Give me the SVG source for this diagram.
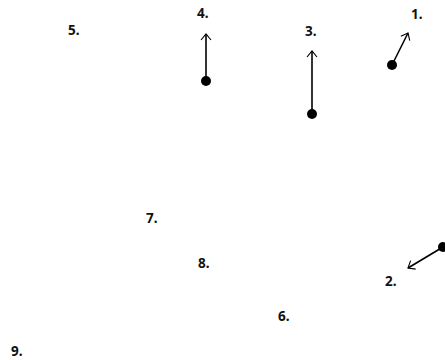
<svg xmlns="http://www.w3.org/2000/svg" width="445" height="360" viewBox="0 0 445 360">
<defs>
<marker id="ah" viewBox="0 0 10 14" refX="9" refY="7" markerWidth="8" markerHeight="14" markerUnits="userSpaceOnUse" orient="auto">
<path d="M1.5,0.8 L9,7 L1.5,13.2" fill="none" stroke="#000" stroke-width="1.4"/>
</marker>
<style>
.lbl{font-family:"Noto Sans","Liberation Sans",sans-serif;font-weight:bold;font-size:13.5px;fill:#111}
.con{stroke:#000;stroke-width:1.6;fill:none;marker-end:url(#ah)}
.dot{fill:#000}
</style>
</defs>
<rect width="445" height="360" fill="#fff"/>
<g id="connectors">
<line class="con" x1="206" y1="81" x2="206" y2="34"/>
<line class="con" x1="312" y1="114" x2="312" y2="51"/>
<line class="con" x1="392" y1="65" x2="408" y2="33"/>
<line class="con" x1="443" y1="247" x2="408" y2="268"/>
</g>
<g id="n1"><circle class="dot" cx="392" cy="65" r="5"/><text class="lbl" x="411" y="19">1.</text></g>
<g id="n2"><circle class="dot" cx="443" cy="247" r="5"/><text class="lbl" x="385" y="286">2.</text></g>
<g id="n3"><circle class="dot" cx="312" cy="114" r="5"/><text class="lbl" x="305" y="36">3.</text></g>
<g id="n4"><circle class="dot" cx="206" cy="81" r="5"/><text class="lbl" x="197" y="18">4.</text></g>
<g id="n5"><text class="lbl" x="68" y="35">5.</text></g>
<g id="n6"><text class="lbl" x="278" y="321">6.</text></g>
<g id="n7"><text class="lbl" x="146" y="223">7.</text></g>
<g id="n8"><text class="lbl" x="198" y="268">8.</text></g>
<g id="n9"><text class="lbl" x="11" y="356">9.</text></g>
</svg>
